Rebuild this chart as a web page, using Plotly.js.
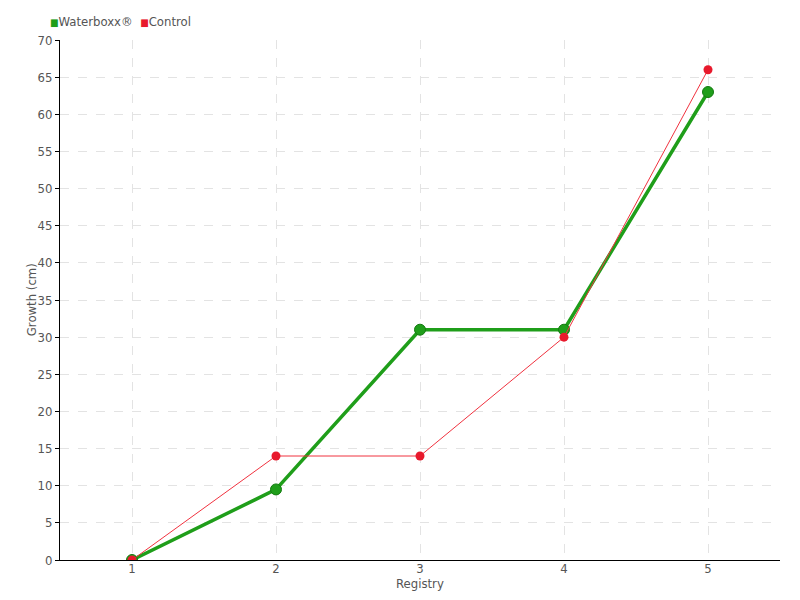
<!DOCTYPE html>
<html><head><meta charset="utf-8">
<script src="https://cdn.plot.ly/plotly-3.0.1.min.js"></script>
<style>html,body{margin:0;padding:0;background:#fff}#chart{width:800px;height:600px}</style>
</head><body><div id="chart"></div>
<script>
const registry = [1, 2, 3, 4, 5];
const waterboxx = [0, 9.5, 31, 31, 63];
const control = [0, 14, 14, 30, 66];
const seriesNames = ["Waterboxx®", "Control"];
const colors = ["#1f9e1a", "#e8192c"];
const xTitle = "Registry";
const yTitle = "Growth (cm)";

const font = "DejaVu Sans Condensed, Roboto, sans-serif";
const data = [
  {x: registry, y: waterboxx, name: seriesNames[0], type: "scatter", mode: "lines+markers",
   line: {color: colors[0], width: 3.5},
   marker: {color: colors[0], size: 11, line: {color: "#137a10", width: 1}}},
  {x: registry, y: control, name: seriesNames[1], type: "scatter", mode: "lines+markers",
   line: {color: "#f0323f", width: 1},
   marker: {color: colors[1], size: 9}}
];
const legendText = seriesNames.map((n, i) =>
  '<span style="color:' + colors[i] + ';font-size:10px">■</span>' + n).join('  ');
const layout = {
  width: 800, height: 600,
  margin: {l: 60, r: 20, t: 40, b: 40},
  paper_bgcolor: "#fff", plot_bgcolor: "#fff",
  font: {family: font, color: "#555", size: 13},
  showlegend: false,
  annotations: [
    {text: legendText, xref: "paper", yref: "paper", x: -0.017, y: 1.036, xanchor: "left",
     yanchor: "middle", showarrow: false, font: {family: font, size: 13, color: "#555"}},
    {text: xTitle, xref: "paper", yref: "paper", x: 0.5, y: -0.046, xanchor: "center",
     yanchor: "middle", showarrow: false, font: {family: font, size: 13, color: "#555"}},
    {text: yTitle, xref: "paper", yref: "paper", x: -0.04, y: 0.5, xanchor: "center",
     yanchor: "middle", textangle: -90, showarrow: false, font: {family: font, size: 13, color: "#555"}}
  ],
  xaxis: {range: [0.5, 5.5], tickvals: registry, ticktext: registry.map(String),
          showgrid: true, gridcolor: "#e3e3e3", griddash: "dash", zeroline: false,
          showline: true, linecolor: "#000", linewidth: 1,
          ticks: "", ticklabelstandoff: -4,
          tickfont: {family: font, size: 13, color: "#555"}},
  yaxis: {range: [0, 70], dtick: 5, showgrid: true, gridcolor: "#e3e3e3", griddash: "dash",
          zeroline: false, showline: true, linecolor: "#000", linewidth: 1,
          ticks: "outside", ticklen: 4, tickcolor: "#000",
          tickfont: {family: font, size: 13, color: "#555"}}
};
Plotly.newPlot("chart", data, layout, {displayModeBar: false});
</script></body></html>
